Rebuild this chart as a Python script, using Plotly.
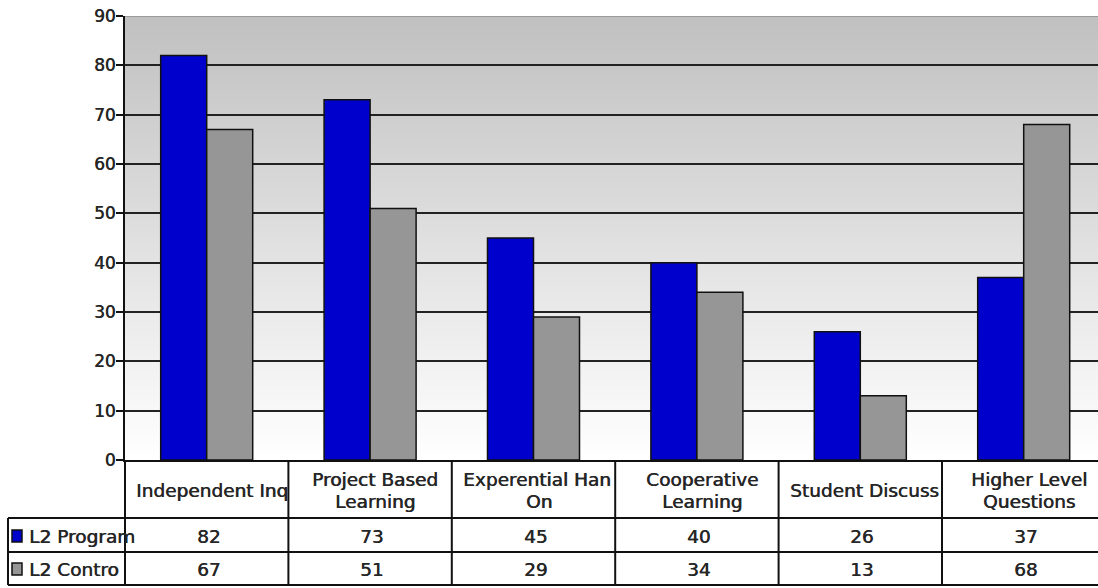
import base64
import plotly.graph_objects as go

# ---------------- data ----------------
categories = ["Independent Inquiry", "Project Based Learning", "Experential Hands On",
              "Cooperative Learning", "Student Discussion", "Higher Level Questions"]
# header text as it is visible in the table cells (first and second line)
header_line1 = ["Independent Inq", "Project Based", "Experential Han",
                "Cooperative", "Student Discuss", "Higher Level"]
header_line2 = ["", "Learning", "On", "Learning", "", "Questions"]
series_names = ["L2 Program", "L2 Control"]
l2_program = [82, 73, 45, 40, 26, 37]
l2_control = [67, 51, 29, 34, 13, 68]
y_tick_values = [0, 10, 20, 30, 40, 50, 60, 70, 80, 90]

# ---------------- geometry / style ----------------
W, H = 1098, 588
PLOT_LEFT, PLOT_TOP, PLOT_BOTTOM = 125, 16, 460
CELL_W = 163.4
TABLE_LEFT = 8
ROW_LINES = [518, 552, 585]
FONT = "DejaVu Sans"
TXT = "#262626"
SHADOW = "0.6px 0 0 #262626"
LINE = "#111111"
colors = ["#0000cc", "#969696"]


def py(p):
    return (H - p) / H


def px(p):
    return p / W


fig = go.Figure()
for name, vals, c in zip(series_names, [l2_program, l2_control], colors):
    fig.add_trace(go.Bar(x=categories, y=vals, name=name,
                         marker=dict(color=c, line=dict(color=LINE, width=1.5)),
                         hoverinfo="x+y+name"))

n_visible = (W - PLOT_LEFT) / CELL_W

fig.update_layout(
    template="none",
    width=W, height=H, autosize=False,
    margin=dict(l=0, r=0, t=0, b=0, pad=0),
    paper_bgcolor="white", plot_bgcolor="rgba(0,0,0,0)",
    barmode="group", bargap=0.437, bargroupgap=0, showlegend=False,
    xaxis=dict(domain=[px(PLOT_LEFT), 1], range=[-0.5, -0.5 + n_visible],
               showticklabels=False, ticks="", showgrid=False, automargin=False,
               showline=True, linecolor=LINE, linewidth=2, zeroline=False),
    yaxis=dict(domain=[py(PLOT_BOTTOM), py(PLOT_TOP)], range=[0, 90],
               tickvals=y_tick_values, ticks="outside", ticklen=7, tickwidth=2,
               tickcolor=LINE, showgrid=True, gridcolor="#222222", gridwidth=2,
               showline=True, linecolor=LINE, linewidth=2, zeroline=False,
               automargin=False, ticklabelstandoff=-3,
               tickfont=dict(family=FONT, size=17, color=TXT, shadow=SHADOW)),
)

# gradient plot background
svg = ('<svg xmlns="http://www.w3.org/2000/svg" width="10" height="100" '
       'preserveAspectRatio="none"><defs><linearGradient id="g" x1="0" y1="0" '
       'x2="0" y2="1"><stop offset="0" stop-color="#c0c0c0"/>'
       '<stop offset="1" stop-color="#ffffff"/></linearGradient></defs>'
       '<rect width="10" height="100" fill="url(#g)"/></svg>')
fig.add_layout_image(
    source="data:image/svg+xml;base64," + base64.b64encode(svg.encode()).decode(),
    xref="paper", yref="paper", x=px(PLOT_LEFT), y=py(PLOT_TOP),
    sizex=1 - px(PLOT_LEFT), sizey=py(PLOT_TOP) - py(PLOT_BOTTOM),
    sizing="stretch", xanchor="left", yanchor="top", layer="below")

shapes = []
# top border of plot area (grey)
shapes.append(dict(type="line", xref="paper", yref="y", x0=px(PLOT_LEFT), x1=1,
                   y0=90, y1=90, line=dict(color="#9a9a9a", width=2), layer="above"))
# left axis line extended through table
shapes.append(dict(type="line", xref="paper", yref="paper", x0=px(PLOT_LEFT), x1=px(PLOT_LEFT),
                   y0=py(PLOT_BOTTOM), y1=py(ROW_LINES[-1]), line=dict(color=LINE, width=2)))
# table left border
shapes.append(dict(type="line", xref="paper", yref="paper", x0=px(TABLE_LEFT), x1=px(TABLE_LEFT),
                   y0=py(ROW_LINES[0]), y1=py(ROW_LINES[-1]), line=dict(color=LINE, width=2)))
# horizontal table lines
for r in ROW_LINES:
    shapes.append(dict(type="line", xref="paper", yref="paper", x0=px(TABLE_LEFT), x1=1,
                       y0=py(r), y1=py(r), line=dict(color=LINE, width=2)))
# vertical column separators between categories
for i in range(len(categories) - 1):
    shapes.append(dict(type="line", xref="x", yref="paper", x0=i + 0.5, x1=i + 0.5,
                       y0=py(PLOT_BOTTOM), y1=py(ROW_LINES[-1]), line=dict(color=LINE, width=2)))
# legend swatches
row_centers = [536, 569]
for rc, c in zip(row_centers, colors):
    shapes.append(dict(type="rect", xref="paper", yref="paper", x0=px(12), x1=px(22),
                       y0=py(rc + 6), y1=py(rc - 6), fillcolor=c,
                       line=dict(color=LINE, width=1.5)))
fig.update_layout(shapes=shapes)

font = dict(family=FONT, size=18.5, color=TXT, shadow=SHADOW)
ann = []
# header cells
for i, (l1, l2) in enumerate(zip(header_line1, header_line2)):
    y1 = 490 if not l2 else 479
    if len(l1) > 14:   # overflowing labels start at the cell's left padding
        ann.append(dict(xref="x", yref="paper", x=i - 0.5, y=py(y1), xshift=9, text=l1,
                        showarrow=False, font=font, xanchor="left", yanchor="middle"))
    else:
        ann.append(dict(xref="x", yref="paper", x=i, y=py(y1), xshift=5, text=l1,
                        showarrow=False, font=font, xanchor="center", yanchor="middle"))
    if l2:
        ann.append(dict(xref="x", yref="paper", x=i, y=py(501), xshift=5, text=l2,
                        showarrow=False, font=font, xanchor="center", yanchor="middle"))
# value cells
for vals, rc in zip([l2_program, l2_control], row_centers):
    for i, v in enumerate(vals):
        ann.append(dict(xref="x", yref="paper", x=i, y=py(rc), xshift=2, text=str(v),
                        showarrow=False, font=font, xanchor="center", yanchor="middle"))
# row labels (second one is cut off at the column border)
for k, (name, rc) in enumerate(zip(series_names, row_centers)):
    ann.append(dict(xref="paper", yref="paper", x=px(27), y=py(rc), text=name,
                    showarrow=False, font=font, xanchor="left", yanchor="middle",
                    width=None if k == 0 else 90, align="left"))
fig.update_layout(annotations=ann)

fig.write_html("out.html")
